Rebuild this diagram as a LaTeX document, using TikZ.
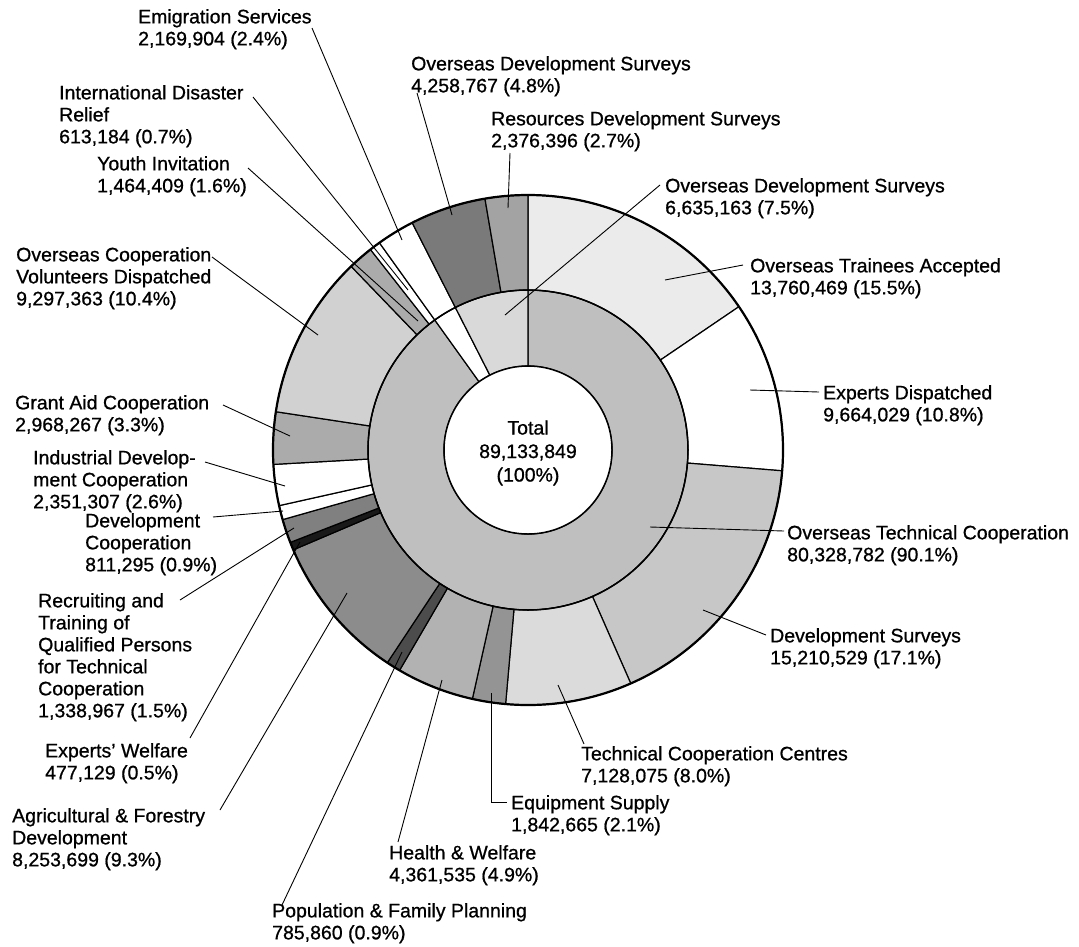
\documentclass[tikz,border=0pt]{standalone}
\usepackage{fontspec}
\setmainfont{Liberation Sans}[FakeBold=0.8]
\usetikzlibrary{calc}
\newcommand\ringseg[5]{%
  \path[seg,#5] ({#3-90}:#2) arc[start angle={#3-90},end angle={#4-90},radius=#2]
    -- ({#4-90}:#1) arc[start angle={#4-90},end angle={#3-90},radius=#1] -- cycle;}
\begin{document}
\begin{tikzpicture}[x=1pt,y=-1pt,
  seg/.style={draw=black,line width=1.2pt,line join=round},
  lead/.style={draw=black,line width=0.9pt},
  lab/.style={anchor=north west,inner sep=0pt,align=left,font=\fontsize{19.5}{22}\selectfont},
]
\useasboundingbox (0,0) rectangle (1079,946);
\fill[white] (0,0) rectangle (1079,946);

\begin{scope}[shift={(528,450)}]
% inner ring
\ringseg{84}{160}{0}{324.36}{fill=black!25}
\ringseg{84}{160}{324.36}{333}{fill=white}
\ringseg{84}{160}{333}{360}{fill=black!15}
% outer ring
\ringseg{160}{255}{0}{55.8}{fill=black!8}
\ringseg{160}{255}{55.8}{94.68}{fill=white}
\ringseg{160}{255}{94.68}{156.24}{fill=black!22}
\ringseg{160}{255}{156.24}{185.04}{fill=black!14}
\ringseg{160}{255}{185.04}{192.6}{fill=black!42}
\ringseg{160}{255}{192.6}{210.24}{fill=black!30}
\ringseg{160}{255}{210.24}{213.48}{fill=black!70}
\ringseg{160}{255}{213.48}{246.96}{fill=black!45}
\ringseg{160}{255}{246.96}{248.76}{fill=black!90}
\ringseg{160}{255}{248.76}{254.16}{fill=black!50}
\ringseg{160}{255}{254.16}{257.4}{fill=white}
\ringseg{160}{255}{257.4}{266.76}{fill=white}
\ringseg{160}{255}{266.76}{278.64}{fill=black!33}
\ringseg{160}{255}{278.64}{316.08}{fill=black!18}
\ringseg{160}{255}{316.08}{321.84}{fill=black!33}
\ringseg{160}{255}{321.84}{324.36}{fill=white}
\ringseg{160}{255}{324.36}{333}{fill=white}
\ringseg{160}{255}{333}{350.28}{fill=black!52}
\ringseg{160}{255}{350.28}{360}{fill=black!36}
\draw[line width=2.2pt] (0,0) circle[radius=255];
\draw[line width=1.5pt] (0,0) circle[radius=160];
\draw[line width=1.5pt,fill=white] (0,0) circle[radius=84];
\end{scope}

\node[align=center,inner sep=0pt,font=\fontsize{19.5}{23.5}\selectfont] (total) at (528,453) {Total\\89,133,849\\(100\%)};

% labels
\node[lab] (emig) at (138,9) {Emigration Services\\2,169,904 (2.4\%)};
\node[lab] (ods48) at (411,56) {Overseas Development Surveys\\4,258,767 (4.8\%)};
\node[lab] (idr) at (59,85) {International Disaster\\Relief\\613,184 (0.7\%)};
\node[lab] (rds) at (491,111) {Resources Development Surveys\\2,376,396 (2.7\%)};
\node[lab] (youth) at (97,156) {Youth Invitation\\1,464,409 (1.6\%)};
\node[lab] (ods75) at (665,178) {Overseas Development Surveys\\6,635,163 (7.5\%)};
\node[lab] (ocvd) at (16,247) {Overseas Cooperation\\Volunteers Dispatched\\9,297,363 (10.4\%)};
\node[lab] (train) at (750,258) {Overseas Trainees Accepted\\13,760,469 (15.5\%)};
\node[lab] (expd) at (823,385) {Experts Dispatched\\9,664,029 (10.8\%)};
\node[lab] (grant) at (15,395) {Grant Aid Cooperation\\2,968,267 (3.3\%)};
\node[lab] (ind) at (33,450) {Industrial Develop-\\ment Cooperation\\2,351,307 (2.6\%)};
\node[lab] (devc) at (85,513) {Development\\Cooperation\\811,295 (0.9\%)};
\node[lab] (otc) at (787,525) {Overseas Technical Cooperation\\80,328,782 (90.1\%)};
\node[lab] (recr) at (38,593) {Recruiting and\\Training of\\Qualified Persons\\for Technical\\Cooperation\\1,338,967 (1.5\%)};
\node[lab] (ds) at (770,628) {Development Surveys\\15,210,529 (17.1\%)};
\node[lab] (ew) at (45,743) {Experts' Welfare\\477,129 (0.5\%)};
\node[lab] (tcc) at (581,746) {Technical Cooperation Centres\\7,128,075 (8.0\%)};
\node[lab] (equip) at (511,795) {Equipment Supply\\1,842,665 (2.1\%)};
\node[lab] (agri) at (12,808) {Agricultural \& Forestry\\Development\\8,253,699 (9.3\%)};
\node[lab] (health) at (389,845) {Health \& Welfare\\4,361,535 (4.9\%)};
\node[lab] (pop) at (272,903) {Population \& Family Planning\\785,860 (0.9\%)};

% leader targets
\coordinate (pEmig) at (402,240);
\coordinate (pIDR) at (408,290);
\coordinate (pYouth) at (418,321);
\coordinate (pOCVD) at (318,335);
\coordinate (pODS48) at (452,215);
\coordinate (pRDS) at (508,208);
\coordinate (pODS75) at (505,315);
\coordinate (pTrain) at (665,280);
\coordinate (pExpD) at (750,390);
\coordinate (pOTC) at (650,527);
\coordinate (pDS) at (703,610);
\coordinate (pTCC) at (558,685);
\coordinate (pEquip) at (491,693);
\coordinate (pHealth) at (442,680);
\coordinate (pPop) at (402,652);
\coordinate (pAgri) at (347,593);
\coordinate (pEW) at (300,542);
\coordinate (pRecr) at (294,528);
\coordinate (pDevC) at (283,511);
\coordinate (pInd) at (285,486);
\coordinate (pGrant) at (290,436);

% leaders
\draw[lead] ($(emig.north west)+(174,19)$) -- (pEmig);
\draw[lead] ($(idr.north west)+(194,12)$) -- (pIDR);
\draw[lead] ($(youth.north west)+(151,12)$) -- (pYouth);
\draw[lead] ($(ocvd.north west)+(196,10)$) -- (pOCVD);
\draw[lead] ($(ods48.north west)+(6,37)$) -- (pODS48);
\draw[lead] ($(rds.north west)+(19,42)$) -- (pRDS);
\draw[lead] ($(ods75.north west)+(-5,7)$) -- (pODS75);
\draw[lead] ($(train.north west)+(-7,7)$) -- (pTrain);
\draw[lead] ($(expd.north west)+(-4,7)$) -- (pExpD);
\draw[lead] ($(otc.north west)+(-3,6)$) -- (pOTC);
\draw[lead] ($(ds.north west)+(-4,7)$) -- (pDS);
\draw[lead] ($(tcc.north west)+(3,-2)$) -- (pTCC);
\draw[lead] (pEquip) |- ($(equip.north west)+(-4,7)$);
\draw[lead] ($(health.north west)+(9,-3)$) -- (pHealth);
\draw[lead] ($(pop.north west)+(10,2)$) -- (pPop);
\draw[lead] ($(agri.north west)+(208,2)$) -- (pAgri);
\draw[lead] ($(ew.north west)+(145,-5)$) -- (pEW);
\draw[lead] ($(recr.north west)+(142,7)$) -- (pRecr);
\draw[lead] ($(devc.north west)+(128,4)$) -- (pDevC);
\draw[lead] ($(ind.north west)+(172,12)$) -- (pInd);
\draw[lead] ($(grant.north west)+(208,10)$) -- (pGrant);
\end{tikzpicture}
\end{document}
